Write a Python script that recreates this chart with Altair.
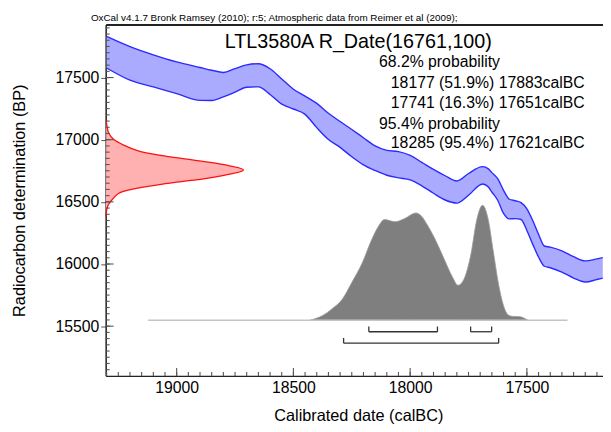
import altair as alt
import pandas as pd

# ---------------- data ----------------
# calibration curve band (calBC, upper / lower BP edges)
curve_cal = [19300, 19200, 19100, 19000, 18900, 18850, 18800, 18750, 18700, 18650,
             18600, 18550, 18500, 18450, 18400, 18350, 18300, 18250, 18200, 18150,
             18100, 18050, 18000, 17950, 17900, 17850, 17800, 17750, 17690, 17665,
             17650, 17625, 17600, 17575, 17550, 17525, 17500, 17475, 17450, 17425,
             17400, 17350, 17300, 17250, 17200, 17175]
curve_upper = [17831, 17749, 17683, 17626, 17581, 17559, 17541, 17572, 17602, 17611,
               17571, 17489, 17406, 17351, 17292, 17213, 17146, 17082, 17016, 16950,
               16914, 16904, 16874, 16818, 16761, 16710, 16668, 16728, 16783, 16765,
               16735, 16686, 16593, 16521, 16509, 16494, 16444, 16350, 16240, 16145,
               16136, 16106, 16059, 16025, 16041, 16051]
curve_lower = [17577, 17479, 17425, 17371, 17316, 17315, 17344, 17382, 17422, 17425,
               17364, 17286, 17247, 17204, 17097, 17002, 16938, 16863, 16798, 16752,
               16714, 16693, 16677, 16629, 16569, 16515, 16490, 16553, 16644, 16619,
               16579, 16513, 16408, 16363, 16365, 16358, 16270, 16158, 16056, 15982,
               15970, 15935, 15887, 15855, 15875, 15886]

# radiocarbon measurement distribution (BP, relative density)
date_bp = [17148, 17101, 17056, 17003, 16950, 16910, 16871, 16831, 16799, 16757,
           16713, 16678, 16646, 16606, 16567, 16513, 16474, 16434, 16381]
date_p = [0.004, 0.011, 0.021, 0.057, 0.143, 0.236, 0.415, 0.666, 0.859, 1.0,
          0.859, 0.666, 0.43, 0.215, 0.093, 0.043, 0.018, 0.007, 0.002]

# calibrated (posterior) distribution (calBC, relative probability)
post_cal = [18430, 18375, 18335, 18290, 18250, 18205, 18165, 18135, 18110, 18065,
            18025, 17975, 17955, 17925, 17885, 17855, 17820, 17795, 17770, 17740,
            17715, 17690, 17665, 17645, 17620, 17600, 17580, 17560, 17530, 17510, 17495]
post_p = [0, 0.041, 0.099, 0.185, 0.328, 0.5, 0.7, 0.82, 0.876, 0.857,
          0.884, 0.934, 0.914, 0.824, 0.671, 0.536, 0.382, 0.305, 0.356, 0.571,
          0.871, 1.0, 0.871, 0.614, 0.299, 0.127, 0.047, 0.034, 0.032, 0.017, 0]

# highest probability ranges
r68_from = [18177, 17741]
r68_to = [17883, 17651]
r95_from = [18285]
r95_to = [17621]

x_ticks_major = [19000, 18500, 18000, 17500]
y_ticks_major = [15500, 16000, 16500, 17000, 17500]
x_ticks_minor = list(range(17200, 19301, 50))
y_ticks_minor = list(range(15150, 17901, 50))

header = "OxCal v4.1.7 Bronk Ramsey (2010); r:5; Atmospheric data from Reimer et al (2009);"
title = "LTL3580A R_Date(16761,100)"
info_lines = ["68.2% probability", "18177 (51.9%) 17883calBC", "17741 (16.3%) 17651calBC",
              "95.4% probability", "18285 (95.4%) 17621calBC"]

# ---------------- layout constants ----------------
W, H = 504, 356
X_LEFT, X_RIGHT = 19304, 17174
Y_BOTTOM, Y_TOP = 15100, 17926
CAL_PER_PX = (X_LEFT - X_RIGHT) / W
BP_PER_PX = (Y_TOP - Y_BOTTOM) / H
RED_SPAN = 590          # cal years spanned by the peak of the measured date curve
POST_BASE = 15547       # BP level of the posterior baseline
POST_SPAN = 925         # BP height of the posterior peak
LVL68, LVL95 = 15455, 15363
BR_TICK = 42
FONT = "Liberation Sans"
TICK_COL = "#555555"

xs = alt.Scale(domain=[X_RIGHT, X_LEFT], reverse=True, nice=False, zero=False)
ys = alt.Scale(domain=[Y_BOTTOM, Y_TOP], nice=False, zero=False)

band = pd.DataFrame({"cal": curve_cal, "upper": curve_upper, "lower": curve_lower})
meas = pd.DataFrame({"bp": date_bp, "p": date_p})
post = pd.DataFrame({"cal": post_cal, "p": post_p})

br = pd.DataFrame({
    "a": r68_from + r95_from,
    "b": r68_to + r95_to,
    "lvl": [LVL68] * len(r68_from) + [LVL95] * len(r95_from),
})
br_ticks = pd.DataFrame({
    "x": r68_from + r68_to + r95_from + r95_to,
    "lvl": [LVL68] * (2 * len(r68_from)) + [LVL95] * (2 * len(r95_from)),
})
base_df = pd.DataFrame({"a": [19122], "b": [17326]})

ax_main_x = alt.Axis(orient="bottom", values=x_ticks_major, ticks=False, labelPadding=4,
                     labelFontSize=16, labelFont=FONT, labelColor="black", format="d",
                     domainColor="#222222", domainWidth=1.5, grid=False,
                     title="Calibrated date (calBC)", titleFont=FONT, titleFontSize=16.5,
                     titleFontWeight="normal", titleColor="black", titleX=256, titleY=40,
                     titleBaseline="middle", titleAlign="center")
ax_main_y = alt.Axis(orient="left", values=y_ticks_major, tickSize=5, tickColor=TICK_COL,
                     labelPadding=2, labelFontSize=16, labelFont=FONT, labelColor="black",
                     format="d", domainColor="#222222", domainWidth=1.5, grid=False,
                     title="Radiocarbon determination (BP)", titleFont=FONT,
                     titleFontSize=16.5, titleFontWeight="normal", titleColor="black",
                     titleX=-87, titleY=178, titleAngle=270, titleAlign="center",
                     titleBaseline="middle")
ax_top = alt.Axis(orient="top", ticks=False, labels=False, domain=True, domainWidth=2,
                  domainColor="#222222", grid=False, title=None)

band_area = alt.Chart(band).mark_area(color="#aaaaff", interpolate="monotone").encode(
    x=alt.X("cal:Q", scale=xs, axis=ax_main_x),
    y=alt.Y("upper:Q", scale=ys, axis=ax_main_y),
    y2="lower:Q",
)
band_up = alt.Chart(band).mark_line(color="#2a2aff", strokeWidth=1.4, interpolate="monotone").encode(
    x=alt.X("cal:Q", scale=xs, axis=None),
    y=alt.Y("upper:Q", scale=ys, axis=None),
)
band_lo = alt.Chart(band).mark_line(color="#2a2aff", strokeWidth=1.4, interpolate="monotone").encode(
    x=alt.X("cal:Q", scale=xs, axis=None),
    y=alt.Y("lower:Q", scale=ys, axis=None),
)

# measured date: a filled path ordered along the BP axis
red = alt.Chart(meas).transform_calculate(
    rcal=f"{X_LEFT} - datum.p * {RED_SPAN}"
).mark_line(stroke="#ff1010", fill="#ffb0b0", strokeWidth=1.3, interpolate="catmull-rom").encode(
    y=alt.Y("bp:Q", scale=ys, axis=None),
    x=alt.X("rcal:Q", scale=xs, axis=ax_top),
    order=alt.Order("bp:Q", sort="descending"),
)

gray = alt.Chart(post).transform_calculate(
    top=f"{POST_BASE} + datum.p * {POST_SPAN}", base=f"{POST_BASE}"
).mark_area(color="#7f7f7f", stroke="#9a9a9a", strokeWidth=0.8, interpolate="monotone").encode(
    x=alt.X("cal:Q", scale=xs, axis=None),
    y=alt.Y("top:Q", scale=ys, axis=None),
    y2="base:Q",
)

baseline = alt.Chart(base_df).transform_calculate(lvl=f"{POST_BASE}").mark_rule(
    color="#c4c4c4", strokeWidth=1.5).encode(
    x=alt.X("a:Q", scale=xs, axis=None), x2="b:Q",
    y=alt.Y("lvl:Q", scale=ys, axis=None),
)

br_h = alt.Chart(br).mark_rule(color="#333333", strokeWidth=1.3).encode(
    x=alt.X("a:Q", scale=xs, axis=None), x2="b:Q",
    y=alt.Y("lvl:Q", scale=ys, axis=None),
)
br_v = alt.Chart(br_ticks).transform_calculate(top=f"datum.lvl + {BR_TICK}").mark_rule(
    color="#333333", strokeWidth=1.3).encode(
    x=alt.X("x:Q", scale=xs, axis=None),
    y=alt.Y("lvl:Q", scale=ys, axis=None), y2="top:Q",
)


# inward ticks along the frame, positioned through the scales
def xticks(vals, length):
    return alt.Chart(pd.DataFrame({"tx": vals})).transform_calculate(
        t0=f"{Y_BOTTOM}", t1=f"{Y_BOTTOM + length * BP_PER_PX}"
    ).mark_rule(color=TICK_COL, strokeWidth=1.1).encode(
        x=alt.X("tx:Q", scale=xs, axis=None),
        y=alt.Y("t0:Q", scale=ys, axis=None), y2="t1:Q")


def yticks(vals, length):
    return alt.Chart(pd.DataFrame({"ty": vals})).transform_calculate(
        t0=f"{X_LEFT}", t1=f"{X_LEFT - length * CAL_PER_PX}"
    ).mark_rule(color=TICK_COL, strokeWidth=1.1).encode(
        y=alt.Y("ty:Q", scale=ys, axis=None),
        x=alt.X("t0:Q", scale=xs, axis=None), x2="t1:Q")


tick_layers = [xticks(x_ticks_minor, 4), xticks(x_ticks_major, 8),
               yticks(y_ticks_minor, 4), yticks(y_ticks_major, 8)]

one = pd.DataFrame({"k": [0]})


def label(txt, x, y, size, align="left", baseline="middle"):
    return alt.Chart(one).mark_text(text=txt, font=FONT, fontSize=size, align=align,
                                    baseline=baseline, color="black").encode(
        x=alt.value(x), y=alt.value(y))


texts = [
    label(header, -15, -4, 10, baseline="alphabetic"),
    label(title, 256, 18, 20, align="center"),
    label(info_lines[0], 277, 38, 16),
    label(info_lines[1], 289, 59.5, 16),
    label(info_lines[2], 289, 79.5, 16),
    label(info_lines[3], 277, 100.5, 16),
    label(info_lines[4], 289, 120, 16),
]

chart = alt.layer(band_area, band_up, band_lo, red, gray, baseline, br_h, br_v,
                  *tick_layers, *texts).resolve_axis(
    x="independent", y="independent"
).properties(
    width=W, height=H,
    padding={"left": 99, "top": 14, "right": 0, "bottom": 50},
    autosize=alt.AutoSizeParams(type="none"),
).configure_view(stroke=None).configure(font=FONT)

chart.save("out.html", embed_options={"renderer": "svg", "actions": False})
